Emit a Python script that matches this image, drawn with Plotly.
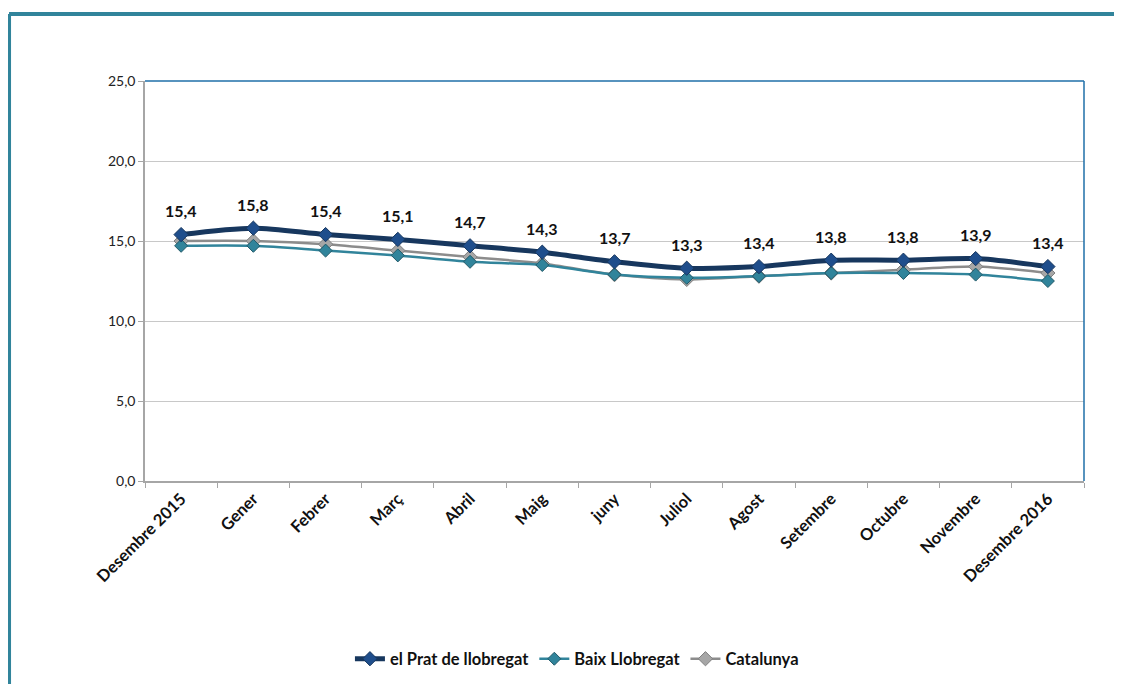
import plotly.graph_objects as go

months = ["Desembre 2015", "Gener", "Febrer", "Març", "Abril", "Maig", "juny",
          "Juliol", "Agost", "Setembre", "Octubre", "Novembre", "Desembre 2016"]
prat = [15.4, 15.8, 15.4, 15.1, 14.7, 14.3, 13.7, 13.3, 13.4, 13.8, 13.8, 13.9, 13.4]
baix = [14.7, 14.7, 14.4, 14.1, 13.7, 13.5, 12.9, 12.7, 12.8, 13.0, 13.0, 12.9, 12.5]
catalunya = [15.0, 15.0, 14.8, 14.4, 14.0, 13.6, 12.9, 12.6, 12.8, 13.0, 13.2, 13.4, 13.0]
yticks = [0, 5, 10, 15, 20, 25]
ytick_labels = ["0,0", "5,0", "10,0", "15,0", "20,0", "25,0"]

FONT = "Lato"
fig = go.Figure()

fig.add_trace(go.Scatter(
    x=months, y=catalunya, name="Catalunya", mode="lines+markers",
    line=dict(color="#8C8C8C", width=2.5, shape="spline", smoothing=0.8),
    marker=dict(symbol="diamond", size=11, color="#A6A6A6",
                line=dict(color="#7F7F7F", width=1)),
))
fig.add_trace(go.Scatter(
    x=months, y=baix, name="Baix Llobregat", mode="lines+markers",
    line=dict(color="#31849B", width=2.5, shape="spline", smoothing=0.8),
    marker=dict(symbol="diamond", size=10, color="#31849B",
                line=dict(color="#215968", width=1)),
))
fig.add_trace(go.Scatter(
    x=months, y=prat, name="el Prat de llobregat", mode="lines+markers",
    line=dict(color="#17375E", width=5, shape="spline", smoothing=0.8),
    marker=dict(symbol="diamond", size=11, color="#1F4E8C",
                line=dict(color="#17375E", width=1)),
))

annotations = [
    dict(x=m, y=v, xref="x", yref="y", text=f"{v:.1f}".replace(".", ","),
         showarrow=False, yshift=24,
         font=dict(family=FONT, size=16, color="#111111", weight="bold"))
    for m, v in zip(months, prat)
]

# figure is offset ~7px by the page body margin; margins compensate
shapes = [
    dict(type="line", xref="paper", yref="paper", x0=-0.1448, x1=1.1,
         y0=1.1675, y1=1.1675, line=dict(color="#31849B", width=4)),
    dict(type="line", xref="paper", yref="paper", x0=-0.1448, x1=-0.1448,
         y0=1.1675, y1=-0.6, line=dict(color="#31849B", width=4)),
    dict(type="line", xref="paper", yref="paper", x0=0, x1=1, y0=1, y1=1,
         line=dict(color="#1F6FA8", width=1.5)),
    dict(type="line", xref="paper", yref="paper", x0=1, x1=1, y0=0, y1=1,
         line=dict(color="#1F6FA8", width=1.5)),
]

fig.update_layout(
    width=1122, height=684,
    margin=dict(l=137, r=46, t=73, b=211),
    paper_bgcolor="white", plot_bgcolor="white",
    shapes=shapes, annotations=annotations,
    showlegend=True,
    legend=dict(orientation="h", x=0.46, xanchor="center", y=-0.445, yanchor="middle",
                traceorder="reversed",
                font=dict(family=FONT, size=16.5, color="#111111", weight="bold"),
                itemwidth=30),
    xaxis=dict(
        type="category", tickangle=-45, tickson="boundaries",
        ticks="outside", ticklen=5, tickcolor="#A6A6A6",
        showline=True, linecolor="#A6A6A6", linewidth=1.5,
        showgrid=False, range=[-0.5, 12.5],
        tickfont=dict(family=FONT, size=16.5, color="#111111", weight="bold"),
    ),
    yaxis=dict(
        range=[0, 25], tickvals=yticks, ticktext=ytick_labels,
        ticks="outside", ticklen=5, tickcolor="#A6A6A6",
        showline=True, linecolor="#A6A6A6", linewidth=1.5,
        showgrid=True, gridcolor="#C8C8C8", gridwidth=1,
        zeroline=False,
        tickfont=dict(family=FONT, size=14, color="#222222"),
    ),
)

fig.write_html("out.html")
